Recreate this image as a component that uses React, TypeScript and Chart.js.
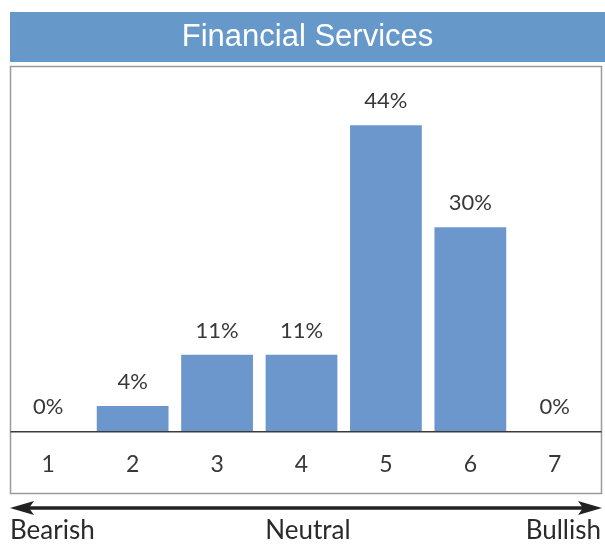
import React, { useEffect, useRef } from "react";
import { Chart, registerables } from "chart.js";

Chart.register(...registerables);

const chartTitle = "Financial Services";
const categories = ["1", "2", "3", "4", "5", "6", "7"];
const shares = [0, 3.7, 11.1, 11.1, 44.4, 29.6, 0];
const shareLabels = ["0%", "4%", "11%", "11%", "44%", "30%", "0%"];
const scaleLabels = ["Bearish", "Neutral", "Bullish"];

const W = 605;
const H = 544;
const FONT = "Lato, 'Noto Sans', sans-serif";

const decorPlugin = {
  id: "decor",
  beforeDraw(chart: any) {
    const ctx = chart.ctx;
    ctx.save();
    ctx.fillStyle = "#ffffff";
    ctx.fillRect(0, 0, W, H);
    // banner
    ctx.fillStyle = "#6699c9";
    ctx.fillRect(10, 12, W - 10, 50);
    ctx.fillStyle = "#ffffff";
    ctx.font = "31px 'Liberation Sans', Arial, sans-serif";
    ctx.textAlign = "center";
    ctx.textBaseline = "middle";
    ctx.fillText(chartTitle, 307.5, 37);
    // box
    ctx.strokeStyle = "#9a9a9a";
    ctx.lineWidth = 1.5;
    ctx.strokeRect(10.5, 66.5, 591, 427);
    ctx.restore();
  },
  afterDatasetsDraw(chart: any) {
    const ctx = chart.ctx;
    const area = chart.chartArea;
    ctx.save();
    // baseline
    ctx.strokeStyle = "#3a3a3a";
    ctx.lineWidth = 1.5;
    ctx.beginPath();
    ctx.moveTo(10.5, area.bottom + 0.25);
    ctx.lineTo(601.5, area.bottom + 0.25);
    ctx.stroke();
    // value labels
    const meta = chart.getDatasetMeta(0);
    ctx.fillStyle = "#383838";
    ctx.font = "22px " + FONT;
    ctx.textAlign = "center";
    ctx.textBaseline = "alphabetic";
    meta.data.forEach((bar: any, i: number) => {
      ctx.fillText(shareLabels[i], bar.x, bar.y - 17);
    });
    // arrow
    const ay = 508;
    const lx = 10;
    const rx = 602;
    ctx.strokeStyle = "#222222";
    ctx.fillStyle = "#222222";
    ctx.lineWidth = 3.5;
    ctx.beginPath();
    ctx.moveTo(lx + 12, ay);
    ctx.lineTo(rx - 12, ay);
    ctx.stroke();
    ctx.beginPath();
    ctx.moveTo(lx, ay);
    ctx.lineTo(lx + 24, ay - 7);
    ctx.lineTo(lx + 19, ay);
    ctx.lineTo(lx + 24, ay + 7);
    ctx.closePath();
    ctx.fill();
    ctx.beginPath();
    ctx.moveTo(rx, ay);
    ctx.lineTo(rx - 24, ay - 7);
    ctx.lineTo(rx - 19, ay);
    ctx.lineTo(rx - 24, ay + 7);
    ctx.closePath();
    ctx.fill();
    // scale labels
    ctx.fillStyle = "#2a2a2a";
    ctx.font = "26px " + FONT;
    ctx.textBaseline = "alphabetic";
    ctx.textAlign = "left";
    ctx.fillText(scaleLabels[0], 10, 539);
    ctx.textAlign = "center";
    ctx.fillText(scaleLabels[1], 308, 539);
    ctx.textAlign = "right";
    ctx.fillText(scaleLabels[2], 601, 539);
    ctx.restore();
  },
};

export default function App() {
  const ref = useRef<HTMLCanvasElement>(null);
  useEffect(() => {
    if (!ref.current) return;
    const chart = new Chart(ref.current, {
      type: "bar",
      data: {
        labels: categories,
        datasets: [
          {
            data: shares,
            backgroundColor: "#6b97cd",
            borderWidth: 0,
            categoryPercentage: 1,
            barPercentage: 0.85,
          },
        ],
      },
      options: {
        responsive: false,
        animation: false,
        devicePixelRatio: 1,
        layout: { padding: { left: 6, right: 8, top: 66, bottom: 47 } },
        plugins: {
          legend: { display: false },
          title: { display: false },
          tooltip: { enabled: false },
        },
        scales: {
          x: {
            grid: { display: false, drawTicks: false, tickLength: 0 },
            border: { display: false },
            ticks: {
              color: "#383838",
              font: { family: FONT, size: 23 },
              padding: 19,
            },
          },
          y: {
            display: false,
            min: 0,
            max: 53,
          },
        },
      },
      plugins: [decorPlugin],
    });
    return () => chart.destroy();
  }, []);
  return (
    <div style={{ position: "absolute", left: 0, top: 0, width: W, height: H }}>
      <canvas ref={ref} width={W} height={H} style={{ display: "block" }} />
    </div>
  );
}
